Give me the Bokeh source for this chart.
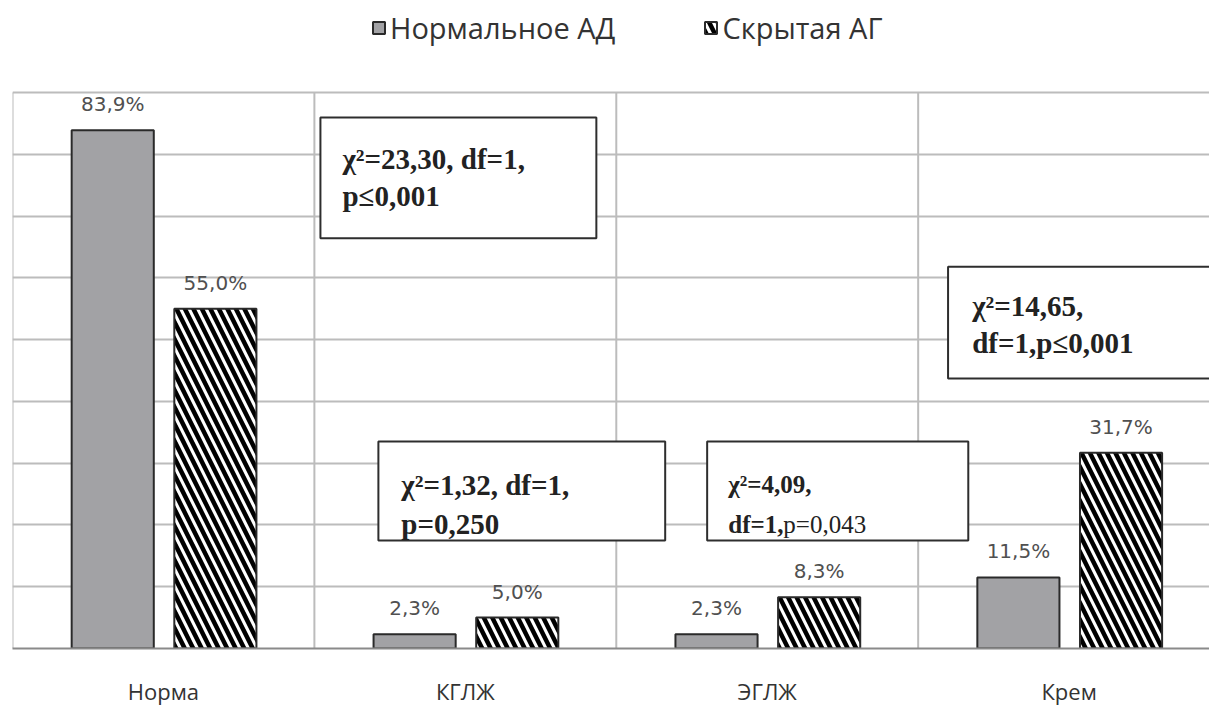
from bokeh.plotting import figure
from bokeh.models import (FixedTicker, Legend, LegendItem, BoxAnnotation, Label,
                          ColumnDataSource)
from bokeh.core.properties import value
from bokeh.transform import dodge
from bokeh.embed import file_html
from bokeh.resources import INLINE

categories = ["Норма", "КГЛЖ", "ЭГЛЖ", "Крем"]
series_names = ["Нормальное АД", "Скрытая АГ"]
normal_vals = [83.9, 2.3, 2.3, 11.5]
hidden_vals = [55.0, 5.0, 8.3, 31.7]
normal_text = ["83,9%", "2,3%", "2,3%", "11,5%"]
hidden_text = ["55,0%", "5,0%", "8,3%", "31,7%"]
y_ticks = [0, 10, 20, 30, 40, 50, 60, 70, 80, 90]

n = len(categories)
xpos = [i + 0.5 for i in range(n)]
src = ColumnDataSource(dict(x=xpos, cat=categories, normal=normal_vals, hidden=hidden_vals,
                            nt=normal_text, ht=hidden_text))

# frame covers the legend band too; the gridded plot area is 0..90
Y_TOP = 104.9
p = figure(width=1209, height=708, x_range=(0, 3.965), y_range=(0, Y_TOP),
           output_backend="svg", toolbar_location=None,
           min_border_left=12, min_border_right=0, min_border_top=0, min_border_bottom=60)
p.title.visible = False
p.outline_line_color = None

GRID = "#bcbcbc"
GREY = "#a2a2a5"
OUT = "#2a2a2a"

# vertical separators between categories (stop at the top gridline)
bounds = list(range(n + 1))
p.segment(x0=bounds, x1=bounds, y0=[y_ticks[0]] * len(bounds), y1=[y_ticks[-1]] * len(bounds),
          line_color=GRID, line_width=2)
p.xgrid.visible = False
p.ygrid.ticker = FixedTicker(ticks=y_ticks)
p.ygrid.grid_line_color = GRID
p.ygrid.grid_line_width = 2

r1 = p.vbar(x=dodge("x", -0.168, range=p.x_range), top="normal", width=0.272, source=src,
            fill_color=GREY, line_color=OUT, line_width=2)
r2 = p.vbar(x=dodge("x", 0.172, range=p.x_range), top="hidden", width=0.272, source=src,
            fill_color="white", line_color=OUT, line_width=2,
            hatch_pattern="\\", hatch_color="black", hatch_weight=4.5, hatch_scale=17)

p.text(x=dodge("x", -0.168, range=p.x_range), y="normal", text="nt", source=src,
       text_align="center", text_baseline="bottom", y_offset=-14,
       text_font=value("DejaVu Sans"), text_font_size="20px", text_color="#505050")
p.text(x=dodge("x", 0.172, range=p.x_range), y="hidden", text="ht", source=src,
       text_align="center", text_baseline="bottom", y_offset=-14,
       text_font=value("DejaVu Sans"), text_font_size="20px", text_color="#505050")

p.yaxis.visible = False
p.xaxis.ticker = FixedTicker(ticks=xpos)
p.xaxis.major_label_overrides = {x: c for x, c in zip(xpos, categories)}
p.xaxis.major_tick_line_color = None
p.xaxis.minor_tick_line_color = None
p.xaxis.axis_line_color = "#8a8a8a"
p.xaxis.axis_line_width = 2
p.xaxis.major_label_standoff = 21
p.xaxis.major_label_text_font = "Open Sans"
p.xaxis.major_label_text_font_size = "22px"
p.xaxis.major_label_text_color = "#333333"

# annotation boxes
boxes = [(1.020, 1.934, 85.95, 66.4), (3.099, 4.2, 61.8, 43.7),
         (1.212, 2.162, 33.5, 17.5), (2.301, 3.166, 33.5, 17.5)]
for l, r, t, b in boxes:
    p.add_layout(BoxAnnotation(left=l, right=r, top=t, bottom=b, fill_color="white",
                               fill_alpha=1, line_color="#2e2e2e", line_alpha=1,
                               line_width=2))

def lab(x, y, text, size="29px", style="bold", xo=0):
    p.add_layout(Label(x=x, y=y, text=text, text_font="Liberation Serif",
                       text_font_size=size, text_font_style=style, text_color="#222222",
                       text_baseline="alphabetic", text_align="left", x_offset=xo))

lab(1.093, 79.3, "χ²=23,30, df=1,")
lab(1.093, 73.3, "p≤0,001")
lab(3.179, 55.5, "χ²=14,65,")
lab(3.179, 49.5, "df=1,p≤0,001")
lab(1.288, 26.5, "χ²=1,32, df=1,")
lab(1.288, 20.1, "p=0,250")
lab(2.371, 26.5, "χ²=4,09,", size="25px")
lab(2.371, 20.1, "df=1,", size="25px")
lab(2.371, 20.1, "p=0,043", size="25px", style="normal", xo=55)

legend = Legend(items=[LegendItem(label=series_names[0], renderers=[r1]),
                       LegendItem(label=series_names[1], renderers=[r2])],
                orientation="horizontal", location=(359, 601),
                label_text_font="Open Sans", label_text_font_size="29px",
                label_text_color="#333333", glyph_width=15, glyph_height=15,
                label_standoff=4, spacing=88, padding=0, margin=0,
                border_line_color=None, background_fill_alpha=0)
p.add_layout(legend, "center")

open("out.html", "w").write(file_html(p, INLINE))
